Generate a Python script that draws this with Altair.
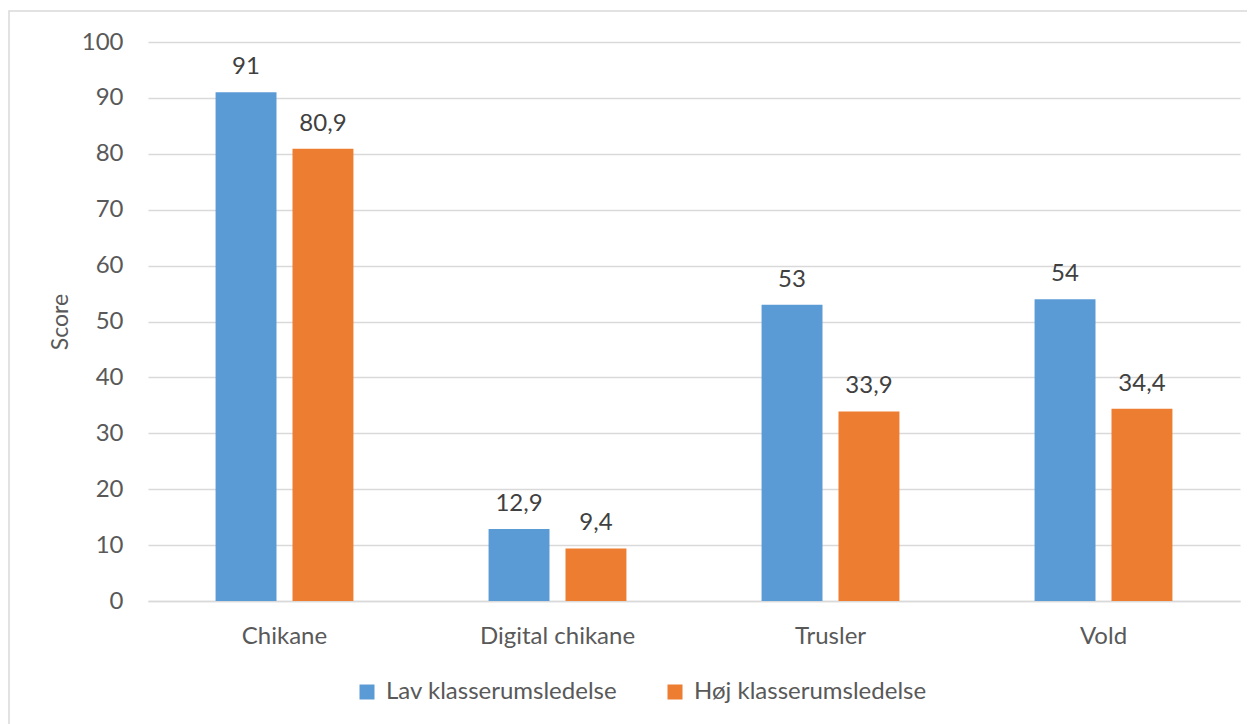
import altair as alt
import pandas as pd

categories = ["Chikane", "Digital chikane", "Trusler", "Vold"]
series = ["Lav klasserumsledelse", "Høj klasserumsledelse"]
lav = [91, 12.9, 53, 54]
hoj = [80.9, 9.4, 33.9, 34.4]
colors = ["#5B9BD5", "#ED7D31"]

rows = []
for i, c in enumerate(categories):
    rows.append({"kategori": c, "gruppe": series[0], "score": lav[i]})
    rows.append({"kategori": c, "gruppe": series[1], "score": hoj[i]})
df = pd.DataFrame(rows)

FONT = "Lato"
FS = 24
W, H = 1092, 559

base = alt.Chart(df).encode(
    x=alt.X("kategori:N", sort=categories, title=None,
            scale=alt.Scale(paddingInner=0.495, paddingOuter=0.2475),
            axis=alt.Axis(labelAngle=0, labelPadding=23, ticks=False, domain=True,
                          domainColor="#d9d9d9", domainWidth=1.5,
                          labelFont=FONT, labelFontSize=FS, labelColor="#595959")),
    xOffset=alt.XOffset("gruppe:N", sort=series,
                        scale=alt.Scale(paddingInner=0.208, paddingOuter=0)),
    y=alt.Y("score:Q", title="Score",
            scale=alt.Scale(domain=[0, 100], nice=False),
            axis=alt.Axis(values=list(range(0, 101, 10)), ticks=False, domain=False,
                          gridColor="#d9d9d9", gridWidth=1.5, labelPadding=25,
                          labelFont=FONT, labelFontSize=FS, labelColor="#595959",
                          titleFont=FONT, titleFontSize=23, titleFontWeight="normal",
                          titleColor="#595959", titlePadding=9)),
)

bars = base.mark_bar().encode(
    color=alt.Color("gruppe:N", sort=series,
                    scale=alt.Scale(domain=series, range=colors),
                    legend=alt.Legend(title=None, orient="none", direction="horizontal",
                                      legendX=207, legendY=638,
                                      symbolType="square", symbolSize=225,
                                      symbolStrokeWidth=0, labelFont=FONT,
                                      labelFontSize=FS, labelColor="#595959",
                                      labelLimit=0, columnPadding=45, labelOffset=7))
)

labels = base.mark_text(baseline="alphabetic", dy=-18, font=FONT, fontSize=FS,
                        color="#404040").transform_calculate(
    lbl="replace(toString(datum.score), '.', ',')"
).encode(text="lbl:N")

border = alt.Chart(pd.DataFrame({"a": [0]})).mark_rect(
    fill=None, stroke="#d9d9d9", strokeWidth=1.5
).encode(x=alt.value(-139), x2=alt.value(1110), y=alt.value(-31), y2=alt.value(700))

chart = alt.layer(border, bars, labels).properties(
    width=W, height=H,
    autosize=alt.AutoSizeParams(type="none"),
    padding={"left": 140, "top": 34, "right": 7, "bottom": 123},
).configure_view(stroke=None)

chart.save("out.html", embed_options={"renderer": "svg", "actions": False})
